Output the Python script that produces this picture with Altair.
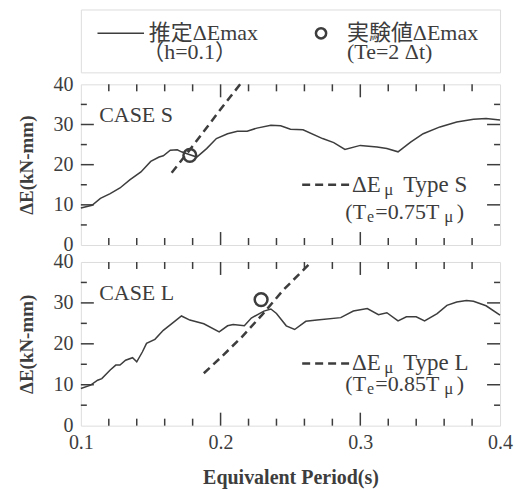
import altair as alt
import pandas as pd

# ---------------- data ----------------
# CASE S : estimated ΔEmax (h=0.1)
s_period = [0.100, 0.108, 0.114, 0.121, 0.128, 0.135, 0.143, 0.150, 0.156, 0.159,
            0.164, 0.169, 0.172, 0.177, 0.183, 0.190, 0.197, 0.205, 0.212, 0.219,
            0.226, 0.236, 0.243, 0.250, 0.259, 0.273, 0.281, 0.289, 0.300, 0.312,
            0.319, 0.327, 0.336, 0.345, 0.357, 0.369, 0.381, 0.390, 0.400]
s_energy = [9.2, 9.9, 11.6, 12.8, 14.2, 16.2, 18.2, 20.8, 21.9, 22.2,
            23.6, 23.7, 23.2, 22.6, 21.9, 24.0, 26.5, 27.7, 28.3, 28.3,
            29.1, 29.8, 29.7, 28.8, 28.7, 26.5, 25.5, 23.8, 24.8, 24.4,
            24.0, 23.2, 25.6, 27.7, 29.4, 30.6, 31.3, 31.5, 31.1]

# CASE L : estimated ΔEmax (h=0.1)
l_period = [0.100, 0.107, 0.112, 0.115, 0.121, 0.125, 0.128, 0.132, 0.137, 0.140,
            0.144, 0.147, 0.153, 0.159, 0.166, 0.172, 0.178, 0.188, 0.199, 0.205,
            0.209, 0.217, 0.222, 0.231, 0.236, 0.240, 0.247, 0.253, 0.261, 0.269,
            0.286, 0.295, 0.305, 0.313, 0.319, 0.327, 0.333, 0.340, 0.346, 0.355,
            0.362, 0.369, 0.376, 0.381, 0.390, 0.400]
l_energy = [9.1, 9.9, 11.1, 11.5, 13.6, 14.8, 14.8, 16.0, 16.6, 15.6,
            18.0, 20.1, 21.1, 23.3, 25.2, 26.8, 25.8, 24.9, 22.9, 24.4,
            24.7, 24.4, 26.3, 28.0, 28.5, 27.4, 24.4, 23.5, 25.5, 25.8,
            26.4, 28.0, 28.6, 27.1, 27.6, 25.6, 26.6, 26.6, 25.6, 27.4,
            29.4, 30.2, 30.6, 30.4, 29.3, 27.0]

# ΔEμ curves (dashed)
s_mu_period = [0.165, 0.176, 0.190, 0.200, 0.214]
s_mu_energy = [18.0, 22.8, 29.2, 33.8, 40.0]
l_mu_period = [0.188, 0.200, 0.215, 0.230, 0.245, 0.265]
l_mu_energy = [12.8, 16.6, 21.6, 27.2, 33.2, 40.0]

# experimental ΔEmax (Te = 2Δt)
s_test_period = [0.178]
s_test_energy = [22.3]
l_test_period = [0.229]
l_test_energy = [30.8]

# ticks / labels
x_tick_labels = [0.1, 0.2, 0.3, 0.4]
y_tick_labels = [0, 10, 20, 30, 40]
x_major_ticks = [0.2, 0.3]
x_minor_ticks = [0.12, 0.14, 0.16, 0.18, 0.22, 0.24, 0.26, 0.28, 0.32, 0.34, 0.36, 0.38]
y_major_ticks = [10, 20, 30]
y_minor_ticks = [5, 15, 25, 35]

# ---------------- style ----------------
INK = "#3d3d3d"
SERIF = "'Liberation Serif', Tinos, 'Times New Roman', 'DejaVu Serif', serif"
MIXED = "'Liberation Serif', Tinos, 'Times New Roman', 'Noto Sans CJK JP', serif"
W = 420
H_S = 161
H_L = 164

xs = alt.Scale(domain=[0.1, 0.4], nice=False, zero=False)
ys = alt.Scale(domain=[0, 40], nice=False, zero=False)

Y_AXIS = alt.Axis(values=y_tick_labels, ticks=False, domain=False, grid=False,
                  labelFlush=False, labelFont=SERIF, labelFontSize=20, labelColor=INK,
                  labelPadding=8, title="ΔE(kN-mm)", titleFont=SERIF, titleFontSize=19,
                  titleFontWeight="bold", titleColor=INK, titlePadding=16)

X_AXIS = alt.Axis(values=x_tick_labels, format=".1f", ticks=False, domain=False, grid=False,
                  labelFlush=False, labelFont=SERIF, labelFontSize=20, labelColor=INK,
                  labelPadding=7, title="Equivalent Period(s)", titleFont=SERIF,
                  titleFontSize=20, titleFontWeight="bold", titleColor=INK, titlePadding=15)


def panel(period, energy, mu_p, mu_e, tp, te, case_label, type_label, te_label, H, show_x, l1, l2):
    xax = X_AXIS if show_x else None
    X = lambda f: alt.X(f, scale=xs, axis=xax)
    Y = lambda f: alt.Y(f, scale=ys, axis=Y_AXIS)

    curve = alt.Chart(pd.DataFrame({"p": period, "e": energy})).mark_line(
        color=INK, strokeWidth=1.5).encode(x=X("p:Q"), y=Y("e:Q"))
    mu = alt.Chart(pd.DataFrame({"p": mu_p, "e": mu_e})).mark_line(
        color=INK, strokeWidth=2.5, strokeDash=[8, 5]).encode(x=X("p:Q"), y=Y("e:Q"))
    pt = alt.Chart(pd.DataFrame({"p": tp, "e": te})).mark_point(
        shape="circle", size=165, filled=False, color=INK, strokeWidth=2.5, opacity=1
    ).encode(x=X("p:Q"), y=Y("e:Q"))

    layers = [curve, mu, pt]

    # inward ticks
    for vals, ln in [(x_minor_ticks, 7), (x_major_ticks, 13)]:
        d = pd.DataFrame({"t": vals})
        layers.append(alt.Chart(d).mark_rule(color=INK, strokeWidth=1.5).encode(
            x=X("t:Q"), y=alt.value(H), y2=alt.value(H - ln)))
        layers.append(alt.Chart(d).mark_rule(color=INK, strokeWidth=1.5).encode(
            x=X("t:Q"), y=alt.value(0), y2=alt.value(ln)))
    for vals, ln in [(y_minor_ticks, 6), (y_major_ticks, 13)]:
        d = pd.DataFrame({"t": vals})
        layers.append(alt.Chart(d).mark_rule(color=INK, strokeWidth=1.5).encode(
            y=Y("t:Q"), x=alt.value(0), x2=alt.value(ln)))
        layers.append(alt.Chart(d).mark_rule(color=INK, strokeWidth=1.5).encode(
            y=Y("t:Q"), x=alt.value(W), x2=alt.value(W - ln)))

    # annotation: dashed sample + text pieces
    d_sample = pd.DataFrame({"x0": [0.2584], "x1": [0.2921], "y": [l1]})
    layers.append(alt.Chart(d_sample).mark_rule(color=INK, strokeWidth=2.5, strokeDash=[8, 5]).encode(
        x=X("x0:Q"), x2="x1", y=Y("y:Q")))
    txt = pd.DataFrame({
        "x": [0.1131, 0.2941, 0.3171, 0.3307, 0.2893, 0.3048, 0.3107, 0.3600, 0.3690],
        "y": [32.4, l1, l1 - 1.2, l1, l2, l2 - 1.2, l2, l2 - 1.2, l2],
        "s": [case_label, "ΔE", "μ", type_label, "(T", "e", te_label, "μ", ")"],
        "fs": [22, 23, 17, 23, 22, 16, 22, 17, 22],
    })
    layers.append(alt.Chart(txt).mark_text(align="left", baseline="middle", font=SERIF, color=INK).encode(
        x=X("x:Q"), y=Y("y:Q"), text="s:N", size=alt.Size("fs:Q", scale=None)))

    return alt.layer(*layers).properties(width=W, height=H)


top = panel(s_period, s_energy, s_mu_period, s_mu_energy, s_test_period, s_test_energy,
            "CASE S", "Type S", "=0.75T", H_S, False, 15.0, 8.1)
bottom = panel(l_period, l_energy, l_mu_period, l_mu_energy, l_test_period, l_test_energy,
               "CASE L", "Type L", "=0.85T", H_L, True, 15.2, 10.1)

# ---------------- legend box ----------------
lx = alt.Scale(domain=[0.1, 0.4], nice=False, zero=False)
ly = alt.Scale(domain=[0, 1], nice=False, zero=False)
LX = lambda f: alt.X(f, scale=lx, axis=None)
LY = lambda f: alt.Y(f, scale=ly, axis=None)

leg_line = alt.Chart(pd.DataFrame({"x0": [0.1119], "x1": [0.1452], "y": [0.62]})).mark_rule(
    color=INK, strokeWidth=1.5).encode(x=LX("x0:Q"), x2="x1", y=LY("y:Q"))
leg_pt = alt.Chart(pd.DataFrame({"x": [0.2719], "y": [0.62]})).mark_point(
    shape="circle", size=105, filled=False, color=INK, strokeWidth=2.5, opacity=1).encode(
    x=LX("x:Q"), y=LY("y:Q"))
leg_txt = alt.Chart(pd.DataFrame({
    "x": [0.1486, 0.1440, 0.2905, 0.2905],
    "y": [0.62, 0.32, 0.62, 0.32],
    "s": ["推定ΔEmax", "（h=0.1）", "実験値ΔEmax", "(Te=2 Δt)"],
})).mark_text(align="left", baseline="middle", font=MIXED, fontSize=22, color=INK).encode(
    x=LX("x:Q"), y=LY("y:Q"), text="s:N")
legend = alt.layer(leg_line, leg_pt, leg_txt).properties(width=W, height=63)

panels = alt.vconcat(top, bottom, spacing=17, bounds="flush")
chart = alt.vconcat(legend, panels, spacing=12, bounds="flush").properties(
    padding={"left": 9, "top": 0, "right": 5, "bottom": 5}
).configure_view(stroke=INK, strokeWidth=2).configure(background="white")

chart.save("out.html", embed_options={"renderer": "svg", "actions": False})
